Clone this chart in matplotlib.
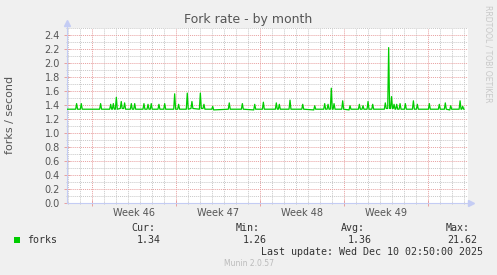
#!/usr/bin/env python3
"""
Munin style plot of the fork rate over the last month
"""
import matplotlib
matplotlib.use('Agg')
import matplotlib.pyplot as plt
from matplotlib.patches import Rectangle
from matplotlib.transforms import blended_transform_factory
from matplotlib.ticker import MultipleLocator, FixedLocator, NullFormatter, FormatStrFormatter

W, H = 497, 275

# days since Monday of week 46, and forks / second
days = [
    -2.08,
    -1.36, -1.28, -1.20,
    -0.97, -0.89, -0.81,
    0.64, 0.72, 0.80,
    1.48, 1.56, 1.64,
    1.70, 1.78, 1.86,
    1.95, 2.03, 2.11,
    2.36, 2.44, 2.52,
    2.64, 2.72, 2.80,
    3.20, 3.28, 3.36,
    3.48, 3.56, 3.64,
    4.25, 4.33, 4.41,
    4.59, 4.67, 4.75,
    4.86, 4.94, 5.02,
    5.50, 5.58, 5.66,
    5.98, 6.06, 6.14,
    6.81, 6.89, 6.97,
    7.14, 7.22, 7.30,
    7.86, 7.94, 8.02,
    8.25, 8.33, 8.41,
    8.95, 9.03, 9.11,
    9.25, 9.33, 9.41,
    9.98, 10.06, 10.14,
    11.36, 11.44, 11.52,
    12.45, 12.53, 12.61,
    13.48, 13.56, 13.64,
    14.20, 14.28, 14.36,
    15.28, 15.36, 15.44,
    15.53, 15.61, 15.69,
    16.42, 16.50, 16.58,
    17.48, 17.56, 17.64,
    18.48, 18.56, 18.64,
    19.31, 19.39, 19.47,
    19.59, 19.67, 19.75,
    19.86, 19.94, 20.02,
    20.09, 20.17, 20.25,
    20.81, 20.89, 20.97,
    21.42, 21.50, 21.58,
    22.20, 22.28, 22.36,
    22.50, 22.58, 22.66,
    22.92, 23.00, 23.08,
    23.31, 23.39, 23.47,
    24.36, 24.44, 24.52,
    24.64, 24.72, 24.80,
    24.88, 24.96, 25.04,
    25.09, 25.17, 25.25,
    25.31, 25.39, 25.47,
    25.59, 25.67, 25.75,
    26.03, 26.11, 26.19,
    26.70, 26.78, 26.86,
    27.03, 27.11, 27.19,
    28.03, 28.11, 28.19,
    28.86, 28.94, 29.02,
    29.36, 29.44, 29.52,
    29.81, 29.89, 29.97,
    30.59, 30.67, 30.75,
    30.81, 30.89, 30.97,
    31.00,
]
forks = [
    1.34,
    1.34, 1.42, 1.34,
    1.34, 1.42, 1.34,
    1.34, 1.42, 1.34,
    1.34, 1.41, 1.34,
    1.34, 1.42, 1.34,
    1.34, 1.51, 1.34,
    1.35, 1.45, 1.35,
    1.35, 1.43, 1.34,
    1.34, 1.42, 1.34,
    1.34, 1.42, 1.34,
    1.34, 1.42, 1.34,
    1.34, 1.41, 1.34,
    1.34, 1.42, 1.34,
    1.34, 1.41, 1.34,
    1.34, 1.42, 1.34,
    1.34, 1.56, 1.34,
    1.34, 1.41, 1.34,
    1.34, 1.57, 1.34,
    1.35, 1.45, 1.35,
    1.34, 1.57, 1.35,
    1.35, 1.41, 1.34,
    1.34, 1.38, 1.33,
    1.34, 1.43, 1.34,
    1.34, 1.42, 1.34,
    1.33, 1.41, 1.34,
    1.34, 1.44, 1.34,
    1.34, 1.43, 1.34,
    1.34, 1.41, 1.34,
    1.34, 1.47, 1.34,
    1.34, 1.41, 1.34,
    1.33, 1.39, 1.34,
    1.34, 1.42, 1.34,
    1.34, 1.41, 1.34,
    1.34, 1.64, 1.34,
    1.34, 1.42, 1.34,
    1.34, 1.46, 1.34,
    1.33, 1.39, 1.34,
    1.34, 1.41, 1.34,
    1.34, 1.39, 1.34,
    1.34, 1.45, 1.34,
    1.34, 1.41, 1.34,
    1.34, 1.43, 1.35,
    1.35, 2.22, 1.35,
    1.35, 1.52, 1.35,
    1.35, 1.41, 1.34,
    1.34, 1.41, 1.34,
    1.34, 1.42, 1.34,
    1.34, 1.42, 1.34,
    1.34, 1.46, 1.34,
    1.34, 1.41, 1.34,
    1.34, 1.42, 1.34,
    1.34, 1.41, 1.34,
    1.34, 1.43, 1.34,
    1.33, 1.39, 1.34,
    1.34, 1.46, 1.34,
    1.34, 1.38, 1.34,
    1.34,
]

week_starts = [0, 7, 14, 21, 28]
week_labels = ['Week 46', 'Week 47', 'Week 48', 'Week 49']

stat_names = ['Cur:', 'Min:', 'Avg:', 'Max:']
stat_values = ['1.34', '1.26', '1.36', '21.62']

TEXT = '#555555'
MGRID = '#E8A0A0'
GRID = '#C8C8C8'
AXIS = '#C4CCF4'
GREEN = '#00CC00'


def fx(x):
    return x / W


def fy(y):
    return 1 - y / H


def main():
    fig = plt.figure(figsize=(W / 100, H / 100), dpi=100, facecolor='#F0F0F0')
    ax = fig.add_axes([fx(67), fy(203), 401 / W, 175 / H], facecolor='white')

    ax.plot(days, forks, color=GREEN, linewidth=0.9, zorder=3)
    ax.set_xlim(-2.08, 31.33)
    ax.set_ylim(0, 2.5)

    # grid, rrdtool style
    ax.yaxis.set_major_locator(MultipleLocator(0.2))
    ax.yaxis.set_minor_locator(MultipleLocator(0.1))
    ax.yaxis.set_major_formatter(FormatStrFormatter('%.1f'))
    ax.xaxis.set_major_locator(FixedLocator(week_starts))
    ax.xaxis.set_minor_locator(MultipleLocator(1))
    ax.xaxis.set_major_formatter(NullFormatter())
    ax.grid(True, which='minor', color=GRID, linestyle=(0, (1, 1)), linewidth=0.7)
    ax.grid(True, which='major', color=MGRID, linestyle=(0, (1, 1)), linewidth=0.7)
    ax.set_axisbelow(True)

    ax.tick_params(which='major', direction='inout', length=4, width=0.7,
                   color=MGRID, labelsize=7, labelcolor=TEXT, pad=3)
    ax.tick_params(which='minor', direction='inout', length=2, width=0.7, color=GRID)

    for s in ['top', 'right']:
        ax.spines[s].set_visible(False)
    for s in ['left', 'bottom']:
        ax.spines[s].set_color(AXIS)
        ax.spines[s].set_linewidth(0.8)

    # axis arrows
    ax.plot([0, 0], [1, 1.03], color=AXIS, lw=0.8, transform=ax.transAxes, clip_on=False)
    ax.plot([1, 1.008], [0, 0], color=AXIS, lw=0.8, transform=ax.transAxes, clip_on=False)
    ax.plot(0, 1.03, marker='^', ms=4, color=AXIS, transform=ax.transAxes, clip_on=False)
    ax.plot(1.008, 0, marker='>', ms=4, color=AXIS, transform=ax.transAxes, clip_on=False)

    # week labels sit between the week boundaries
    week_tr = blended_transform_factory(ax.transData, fig.transFigure)
    for start, label in zip(week_starts, week_labels):
        ax.text(start + 3.5, fy(213), label, transform=week_tr,
                ha='center', va='center', fontsize=7, color=TEXT)

    fig.text(0.5, fy(19), 'Fork rate - by month', ha='center', va='center',
             fontsize=9, color=TEXT)
    fig.text(fx(10), fy(115), 'forks / second', rotation=90, ha='center', va='center',
             fontsize=8, color=TEXT)
    fig.text(fx(488), fy(5), 'RRDTOOL / TOBI OETIKER', rotation=270, ha='center', va='top',
             fontsize=5.5, color='#C8C8C8')

    # legend block
    mono = 'DejaVu Sans Mono'
    name_right = [155, 260, 365, 470]
    value_right = [161, 267, 372, 477]
    for x, name in zip(name_right, stat_names):
        fig.text(fx(x), fy(228), name, ha='right', va='center', family=mono,
                 fontsize=7.2, color='#333333')
    for x, val in zip(value_right, stat_values):
        fig.text(fx(x), fy(240), val, ha='right', va='center', family=mono,
                 fontsize=7.2, color='#333333')
    fig.add_artist(Rectangle((fx(14), fy(243)), 6 / W, 6 / H, transform=fig.transFigure,
                             facecolor=GREEN, edgecolor='none'))
    fig.text(fx(27), fy(240), 'forks', ha='left', va='center', family=mono,
             fontsize=7.2, color='#333333')
    fig.text(fx(483), fy(252), 'Last update: Wed Dec 10 02:50:00 2025', ha='right',
             va='center', family=mono, fontsize=7.2, color='#333333')
    fig.text(0.5, fy(263), 'Munin 2.0.57', ha='center', va='center',
             fontsize=5.5, color='#BBBBBB')

    fig.savefig('out.png', dpi=100, facecolor=fig.get_facecolor())


if __name__ == "__main__":
    main()
